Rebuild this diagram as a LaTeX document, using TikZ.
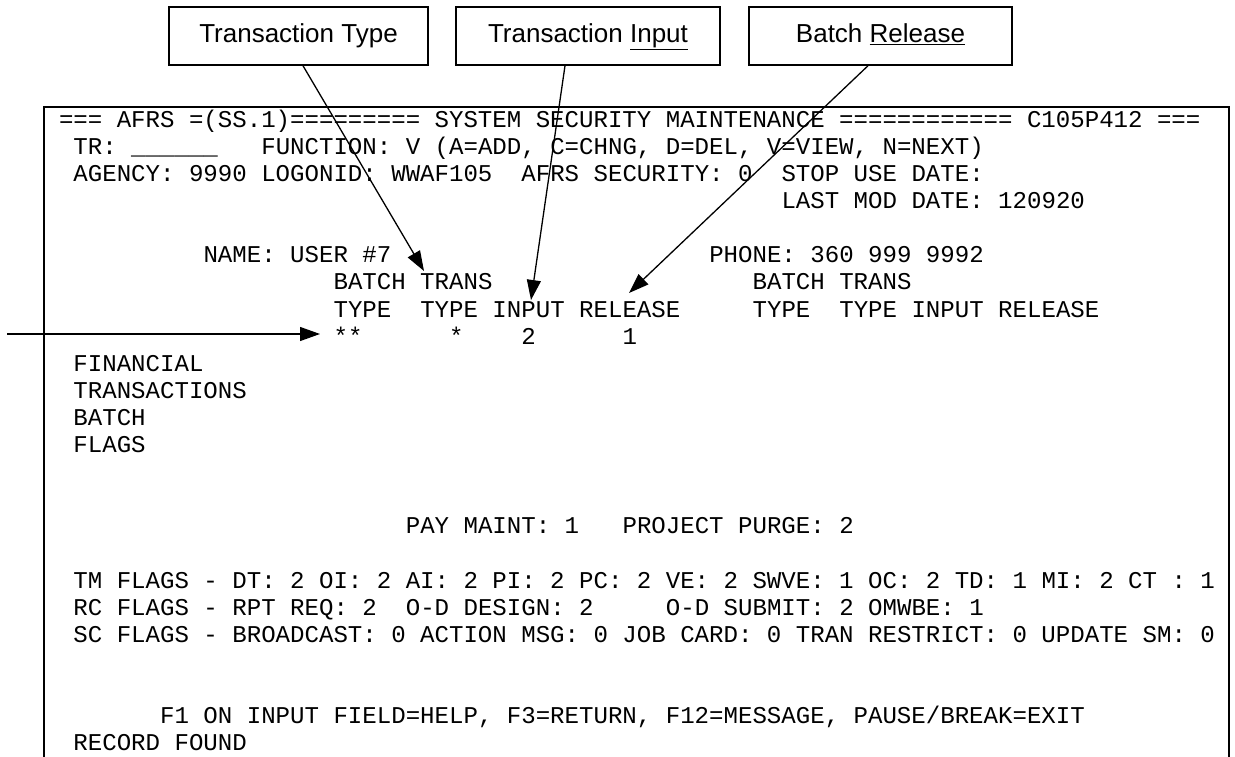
\documentclass[tikz,border=0pt]{standalone}
\usepackage{fontspec}
\setmainfont{Liberation Sans}
\newfontfamily\scrfont{Liberation Mono}
\usetikzlibrary{arrows.meta,calc}
\newcommand\scrtxt[3]{\node[scr] (s#2x#1) at ({59+#1*14.45},{127.3+#2*27.1}) {#3};}
\begin{document}
\begin{tikzpicture}[x=1pt,y=-1pt,
  scr/.style={anchor=base west,inner sep=0pt,outer sep=0pt,font=\scrfont\fontsize{24.08pt}{27pt}\selectfont},
  lbl/.style={draw,line width=1.5pt,minimum height=58pt,inner sep=0pt,text height=18.6pt,text depth=5.5pt,font=\fontsize{26pt}{30pt}\selectfont},
  pointer/.style={line width=1.3pt,-{Triangle[length=20pt,width=14pt]}},
  frame/.style={line width=2pt}]
\useasboundingbox (0,0) rectangle (1235,757);
\fill[white] (0,0) rectangle (1235,757);
% label boxes
\node[lbl,minimum width=259pt] (lt) at (298.5,36) {Transaction Type};
\node[lbl,minimum width=264pt] (li) at (588,36) {Transaction \underline{Input}};
\node[lbl,minimum width=263pt] (lr) at (880.5,36) {Batch \underline{Release}};
% screen frame
\draw[frame] (43.5,757) -- (43.5,107.5) -- (1229,107.5) -- (1229,757);
% screen text
\scrtxt{0}{0}{=== AFRS =(SS.1)========= SYSTEM SECURITY MAINTENANCE ============ C105P412 ===}
\scrtxt{1}{1}{TR: \_\_\_\_\_\_}
\scrtxt{14}{1}{FUNCTION: V (A=ADD, C=CHNG, D=DEL, V=VIEW, N=NEXT)}
\scrtxt{1}{2}{AGENCY: 9990 LOGONID: WWAF105}
\scrtxt{32}{2}{AFRS SECURITY: 0}
\scrtxt{50}{2}{STOP USE DATE:}
\scrtxt{50}{3}{LAST MOD DATE: 120920}
\scrtxt{10}{5}{NAME: USER \#7}
\scrtxt{45}{5}{PHONE: 360 999 9992}
\scrtxt{19}{6}{BATCH TRANS}
\scrtxt{48}{6}{BATCH TRANS}
\scrtxt{19}{7}{TYPE}
\scrtxt{25}{7}{TYPE INPUT RELEASE}
\scrtxt{48}{7}{TYPE}
\scrtxt{54}{7}{TYPE INPUT RELEASE}
\scrtxt{19}{8}{**}
\scrtxt{27}{8}{*}
\scrtxt{32}{8}{2}
\scrtxt{39}{8}{1}
\scrtxt{1}{9}{FINANCIAL}
\scrtxt{1}{10}{TRANSACTIONS}
\scrtxt{1}{11}{BATCH}
\scrtxt{1}{12}{FLAGS}
\scrtxt{24}{15}{PAY MAINT: 1}
\scrtxt{39}{15}{PROJECT PURGE: 2}
\scrtxt{1}{17}{TM FLAGS - DT: 2 OI: 2 AI: 2 PI: 2 PC: 2 VE: 2 SWVE: 1 OC: 2 TD: 1 MI: 2 CT : 1}
\scrtxt{1}{18}{RC FLAGS - RPT REQ: 2}
\scrtxt{24}{18}{O-D DESIGN: 2}
\scrtxt{42}{18}{O-D SUBMIT: 2 OMWBE: 1}
\scrtxt{1}{19}{SC FLAGS - BROADCAST: 0 ACTION MSG: 0 JOB CARD: 0 TRAN RESTRICT: 0 UPDATE SM: 0}
\scrtxt{7}{22}{F1 ON INPUT FIELD=HELP, F3=RETURN, F12=MESSAGE, PAUSE/BREAK=EXIT}
\scrtxt{1}{23}{RECORD FOUND}
% pointers
\coordinate (tipT) at (424,271);
\coordinate (tipI) at (531,300);
\coordinate (tipR) at (629,293);
\coordinate (rowS) at (7,334);
\coordinate (tipS) at (320,334);
\draw[pointer] ($(lt.south)+(4.5,0)$) -- (tipT);
\draw[pointer] ($(li.south)+(-23,0)$) -- (tipI);
\draw[pointer] ($(lr.south)+(-12.5,0)$) -- (tipR);
\draw[pointer] (rowS) -- (tipS);
\end{tikzpicture}
\end{document}
